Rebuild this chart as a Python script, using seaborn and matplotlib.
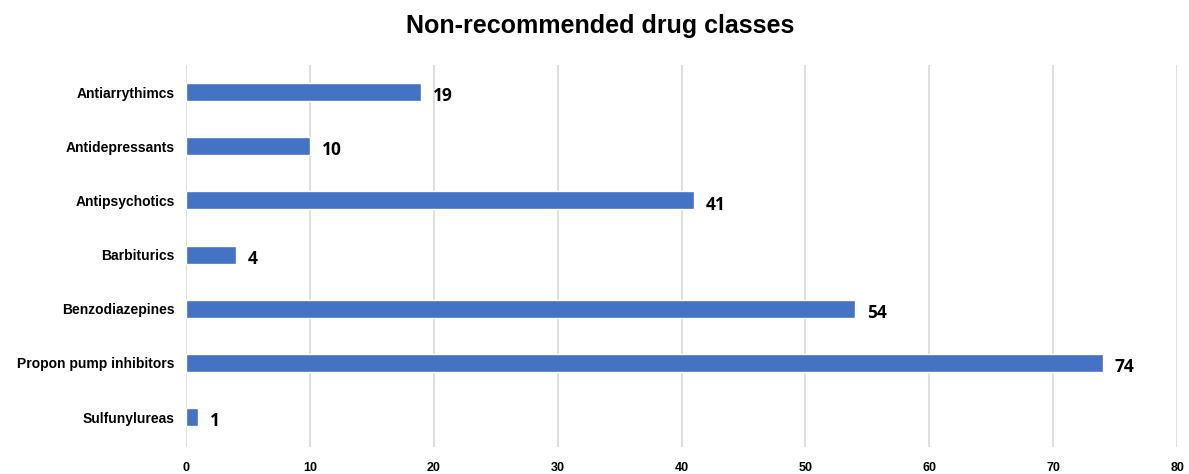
import matplotlib
matplotlib.use("Agg")
import matplotlib.pyplot as plt
import seaborn as sns
import pandas as pd

# -----------------------------
# DATA
# -----------------------------
classes = ["Antiarrythimcs", "Antidepressants", "Antipsychotics", "Barbiturics",
           "Benzodiazepines", "Propon pump inhibitors", "Sulfunylureas"]
counts = [19, 10, 41, 4, 54, 74, 1]
x_ticks = [0, 10, 20, 30, 40, 50, 60, 70, 80]

df = pd.DataFrame({"drug_class": classes, "count": counts})

# -----------------------------
# STYLE
# -----------------------------
sns.set_theme(style="white")
plt.rcParams["font.family"] = ["Liberation Sans", "DejaVu Sans"]
plt.rcParams["text.color"] = "black"
plt.rcParams["xtick.color"] = "black"
plt.rcParams["ytick.color"] = "black"

fig = plt.figure(figsize=(11.89, 4.74), dpi=100)
ax = fig.add_axes([0.1564, 0.057, 0.8336, 0.806])

sns.barplot(data=df, x="count", y="drug_class", orient="h",
            color="#4472C4", saturation=1, width=0.33, ax=ax, zorder=3)

# value labels
for i, v in enumerate(counts):
    ax.annotate(str(v), xy=(v, i), xytext=(8.5, -3), textcoords="offset points",
                ha="left", va="center", fontsize=12.5, fontweight="bold",
                family=["Open Sans", "DejaVu Sans"], color="black")

ax.set_xlim(0, 80)
ax.set_ylim(6.55, -0.5)
ax.set_xticks(x_ticks)
ax.set_xticklabels([str(t) for t in x_ticks], fontsize=9, fontweight="bold")
ax.tick_params(axis="x", length=0, pad=11)
ax.tick_params(axis="y", length=0, pad=8)
for lbl in ax.get_yticklabels():
    lbl.set_fontsize(10)
    lbl.set_fontweight("bold")

ax.xaxis.grid(True, color="#d9d9d9", linewidth=1.2, zorder=0)
ax.yaxis.grid(False)
for s in ax.spines.values():
    s.set_visible(False)

ax.set_xlabel("")
ax.set_ylabel("")
fig.suptitle("Non-recommended drug classes", x=0.505, y=0.97,
             fontsize=18, fontweight="bold", color="black")

fig.savefig("out.png", dpi=100)
